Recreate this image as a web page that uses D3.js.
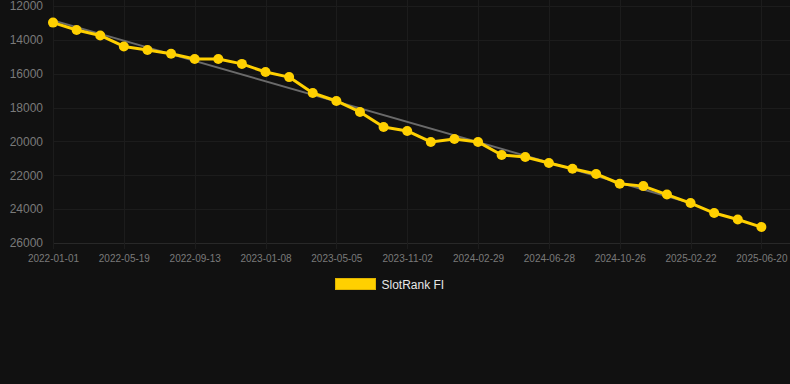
<!DOCTYPE html>
<html>
<head>
  <meta charset="utf-8">
  <title>SlotRank FI</title>
  <style>
    html, body {
      margin: 0;
      padding: 0;
      background: #111111;
    }
    #chart {
      width: 790px;
      height: 384px;
    }
    .tick text {
      font-family: "Liberation Sans", Arial, sans-serif;
      fill: #7a7a7a;
    }
  </style>
</head>
<body>
  <div id="chart"></div>

  <script src="https://d3js.org/d3.v7.min.js"></script>
  <script>
    // rank per snapshot (31 snapshots, evenly spaced on the axis)
    const ranks = [
      12980, 13420, 13740, 14390, 14600, 14820, 15130, 15130, 15420, 15900,
      16200, 17140, 17610, 18260, 19150, 19380, 20030, 19860, 20030, 20800,
      20920, 21270, 21610, 21920, 22500, 22640, 23140, 23640, 24230, 24610,
      25060
    ];
    // labelled ticks, one every third snapshot
    const tickLabels = [
      "2022-01-01", "2022-05-19", "2022-09-13", "2023-01-08", "2023-05-05",
      "2023-11-02", "2024-02-29", "2024-06-28", "2024-10-26", "2025-02-22",
      "2025-06-20"
    ];
    const tickStep = 3;
    const yTicks = [12000, 14000, 16000, 18000, 20000, 22000, 24000, 26000];
    // grey trend line: [snapshot index, rank]
    const trend = [[0, 12850], [27, 23640]];
    const seriesName = "SlotRank FI";

    const width = 790, height = 384;
    const margin = { top: 6, right: 5, bottom: 141, left: 53 };

    const svg = d3.select("#chart")
      .append("svg")
      .attr("width", width)
      .attr("height", height);

    // one empty slot after the last snapshot, as in the original
    const x = d3.scaleLinear()
      .domain([0, ranks.length])
      .range([margin.left, width - margin.right]);

    const y = d3.scaleLinear()
      .domain([12000, 26000])
      .range([margin.top, height - margin.bottom]);

    const gridColor = "#1c1c1c";

    // horizontal grid
    svg.append("g")
      .selectAll("line")
      .data(yTicks)
      .enter()
      .append("line")
      .attr("x1", margin.left)
      .attr("x2", width)
      .attr("y1", d => Math.round(y(d)) + 0.5)
      .attr("y2", d => Math.round(y(d)) + 0.5)
      .attr("stroke", d => d === 26000 ? "#282828" : gridColor);

    // vertical grid at labelled ticks
    svg.append("g")
      .selectAll("line")
      .data(tickLabels)
      .enter()
      .append("line")
      .attr("x1", (d, i) => Math.round(x(i * tickStep)) + 0.5)
      .attr("x2", (d, i) => Math.round(x(i * tickStep)) + 0.5)
      .attr("y1", 0)
      .attr("y2", y(26000) + 6)
      .attr("stroke", gridColor);

    // y axis labels
    const yAxis = d3.axisLeft(y)
      .tickValues(yTicks)
      .tickFormat(d3.format("d"))
      .tickSize(0)
      .tickPadding(10);
    svg.append("g")
      .attr("transform", `translate(${margin.left}, 0)`)
      .call(yAxis)
      .call(g => g.select(".domain").remove())
      .selectAll("text")
      .attr("font-size", 12);

    // x axis labels
    const xAxis = d3.axisBottom(x)
      .tickValues(tickLabels.map((d, i) => i * tickStep))
      .tickFormat((d, i) => tickLabels[i])
      .tickSize(0)
      .tickPadding(12);
    svg.append("g")
      .attr("transform", `translate(0, ${y(26000)})`)
      .call(xAxis)
      .call(g => g.select(".domain").remove())
      .selectAll("text")
      .attr("font-size", 10);

    // trend line
    svg.append("path")
      .datum(trend)
      .attr("fill", "none")
      .attr("stroke", "#6a6a6a")
      .attr("stroke-width", 2)
      .attr("d", d3.line().x(d => x(d[0])).y(d => y(d[1])));

    // series line
    svg.append("path")
      .datum(ranks)
      .attr("fill", "none")
      .attr("stroke", "#ffd000")
      .attr("stroke-width", 3)
      .attr("stroke-linejoin", "round")
      .attr("d", d3.line().x((d, i) => x(i)).y(d => y(d)));

    // points
    svg.append("g")
      .selectAll("circle")
      .data(ranks)
      .enter()
      .append("circle")
      .attr("cx", (d, i) => x(i))
      .attr("cy", d => y(d))
      .attr("r", 5)
      .attr("fill", "#ffd000");

    // legend
    const legend = svg.append("g")
      .attr("transform", "translate(335.5, 278.5)");
    legend.append("rect")
      .attr("width", 40)
      .attr("height", 11)
      .attr("fill", "#ffd000")
      .attr("stroke", "#e0b400")
      .attr("stroke-width", 1);
    legend.append("text")
      .attr("x", 46)
      .attr("y", 6)
      .attr("dy", "0.35em")
      .attr("font-family", "'Liberation Sans', Arial, sans-serif")
      .attr("font-size", 12)
      .attr("fill", "#e6e6e6")
      .text(seriesName);
  </script>
</body>
</html>
